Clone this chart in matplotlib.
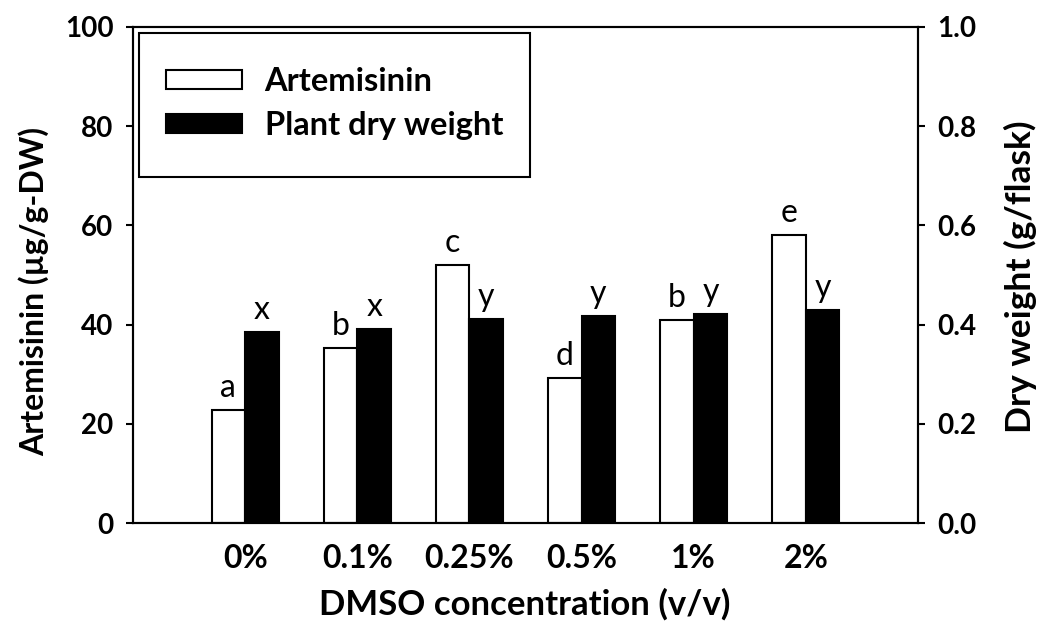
import numpy as np
import matplotlib
matplotlib.use('Agg')
import matplotlib.pyplot as plt
from matplotlib.patches import Rectangle

plt.rcParams['font.family'] = ['Lato', 'DejaVu Sans']

concentrations = ['0%', '0.1%', '0.25%', '0.5%', '1%', '2%']
artemisinin = [22.8, 35.3, 52.1, 29.2, 40.9, 58.0]
dry_weight = [0.385, 0.392, 0.411, 0.418, 0.421, 0.429]
art_letters = ['a', 'b', 'c', 'd', 'b', 'e']
dw_letters = ['x', 'x', 'y', 'y', 'y', 'y']

W, H = 1050, 624
fig = plt.figure(figsize=(W / 100, H / 100), dpi=100)
left, right, top, bottom = 133, 918, 26.7, 523.3
ax = fig.add_axes([left / W, 1 - bottom / H, (right - left) / W, (bottom - top) / H])
ax2 = ax.twinx()

x = np.arange(len(concentrations))
w = 0.30
lw = 1.5
b1 = ax.bar(x - w / 2, artemisinin, w, color='white', edgecolor='black', linewidth=lw,
            label='Artemisinin', zorder=2)
b2 = ax2.bar(x + w / 2, dry_weight, w, color='black', edgecolor='black', linewidth=lw,
             label='Plant dry weight', zorder=2)

ax.set_xlim(-1, 6)
ax.set_ylim(0, 100)
ax2.set_ylim(0, 1.0)
ax.set_yticks(np.arange(0, 101, 20))
ax2.set_yticks(np.arange(0, 1.01, 0.2))
ax2.set_yticklabels(['%.1f' % v for v in np.arange(0, 1.01, 0.2)])
ax.set_xticks(x)
ax.set_xticklabels(concentrations)

for a in (ax, ax2):
    for s in a.spines.values():
        s.set_linewidth(lw)
    a.tick_params(axis='y', direction='out', length=5, width=lw, labelsize=20, pad=9)
    for t in a.get_yticklabels():
        t.set_fontweight('bold')
ax.tick_params(axis='x', length=0, labelsize=23, pad=15)
for t in ax.get_xticklabels():
    t.set_fontweight('bold')

# significance letters
for xi, v, l in zip(x, artemisinin, art_letters):
    ax.annotate(l, (xi - w / 2, v), xytext=(0, 5), textcoords='offset points',
                ha='center', va='bottom', fontsize=23)
for xi, v, l in zip(x, dry_weight, dw_letters):
    ax2.annotate(l, (xi + w / 2, v), xytext=(0, 5), textcoords='offset points',
                 ha='center', va='bottom', fontsize=23)

# legend with its own frame
fig.patches.append(Rectangle((139 / W, 1 - 177.3 / H), (530 - 139) / W, (177.3 - 33.3) / H,
                             transform=fig.transFigure, fill=False, edgecolor='black',
                             linewidth=lw, zorder=5))
leg = ax2.legend([b1, b2], ['Artemisinin', 'Plant dry weight'], loc='center left',
                 bbox_to_anchor=(165.7 / W, 1 - 103.5 / H), bbox_transform=fig.transFigure,
                 frameon=False, borderpad=0, borderaxespad=0, handlelength=2.33,
                 handleheight=0.52, handletextpad=0.7, labelspacing=0.48,
                 prop={'size': 23.5, 'weight': 'bold'})

fig.text(525 / W, 1 - 604 / H, 'DMSO concentration (v/v)', ha='center', va='center',
         fontsize=25, fontweight='bold')
fig.text(34 / W, 1 - 292 / H, 'Artemisinin (µg/g-DW)', ha='center', va='center',
         rotation=90, fontsize=23, fontweight='bold')
fig.text(1020 / W, 1 - 277 / H, 'Dry weight (g/flask)', ha='center', va='center',
         rotation=90, fontsize=25.5, fontweight='bold')

fig.savefig('out.png', dpi=100)
